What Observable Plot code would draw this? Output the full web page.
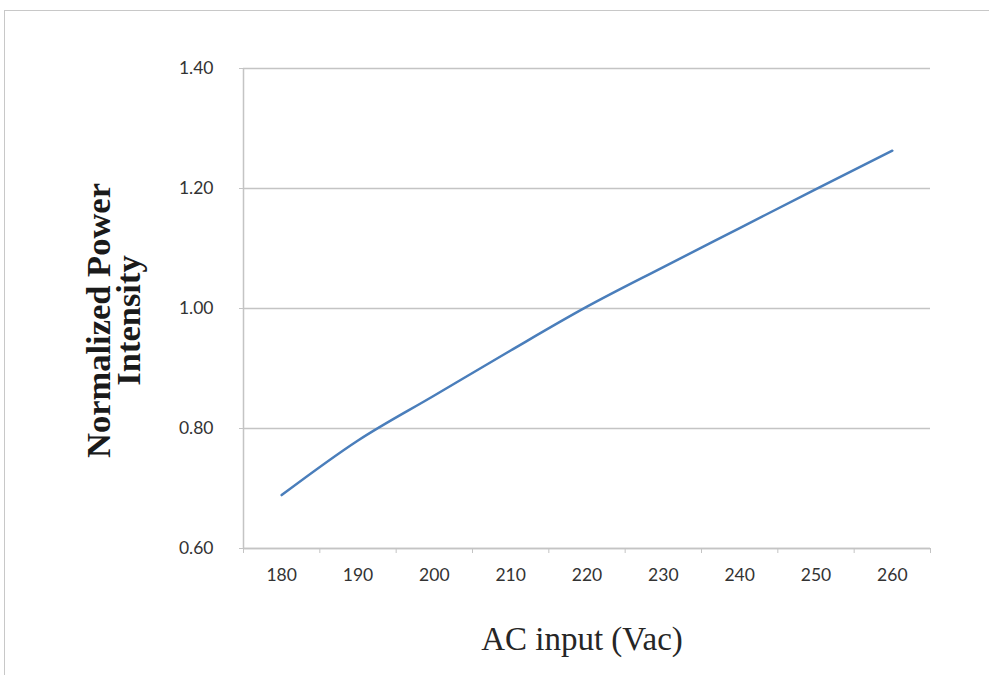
<!DOCTYPE html>
<html>
<head>
<meta charset="utf-8">
<script src="https://cdn.jsdelivr.net/npm/d3@7"></script>
<script src="https://cdn.jsdelivr.net/npm/@observablehq/plot@0.6"></script>
<style>
  html, body { margin: 0; padding: 0; background: #fff; overflow: hidden; }
  #wrap { position: relative; width: 989px; height: 675px; }
  #frame { position: absolute; left: 4px; top: 10px; width: 1100px; height: 800px; border: 1.5px solid #c8c8c8; box-sizing: border-box; }
  #chart { position: absolute; left: 0; top: 0; }
</style>
</head>
<body>
<div id="wrap"><div id="frame"></div><div id="chart"></div></div>
<script>
// AC input categories (Vac)
const acInput = [180, 190, 200, 210, 220, 230, 240, 250, 260];
// Normalized power intensity
const intensity = [0.689, 0.780, 0.855, 0.930, 1.003, 1.069, 1.134, 1.199, 1.263];
// axis ticks
const yTicks = [0.60, 0.80, 1.00, 1.20, 1.40];
const xTickLabels = [180, 190, 200, 210, 220, 230, 240, 250, 260];
const xCategoryEdges = [175, 185, 195, 205, 215, 225, 235, 245, 255, 265];

const data = acInput.map((v, i) => ({v, p: intensity[i]}));

const gray = "#c4c4c4";
const chart = Plot.plot({
  width: 989,
  height: 675,
  marginLeft: 243,
  marginRight: 59,
  marginTop: 68,
  marginBottom: 127,
  style: {fontFamily: "Lato, 'Open Sans', sans-serif", background: "transparent"},
  x: {type: "linear", domain: [175, 265]},
  y: {domain: [0.6, 1.4]},
  marks: [
    Plot.gridY(yTicks, {stroke: gray, strokeOpacity: 1, strokeWidth: 1.5}),
    Plot.ruleX([175], {stroke: gray, strokeWidth: 1.5}),
    Plot.ruleY([0.6], {stroke: gray, strokeWidth: 1.5}),
    Plot.axisY({ticks: yTicks, tickFormat: d3.format(".2f"), tickSize: 4, tickPadding: 26, stroke: gray, fontSize: 17.5, fill: "#333", label: null}),
    Plot.axisX({ticks: xCategoryEdges, tickFormat: () => "", tickSize: 5, stroke: gray, label: null}),
    Plot.axisX({ticks: xTickLabels, tickFormat: d => String(d), tickSize: 0, tickPadding: 20, fontSize: 17.5, fill: "#333", label: null}),
    Plot.line(data, {x: "v", y: "p", stroke: "#4a7ebb", strokeWidth: 2.5, curve: "monotone-x"}),
    Plot.text(["Normalized Power\nIntensity"], {frameAnchor: "left", textAnchor: "middle", lineAnchor: "middle", rotate: -90, dx: -128, dy: 12, fontFamily: "'Liberation Serif', serif", fontWeight: "bold", fontSize: 34.5, lineHeight: 0.85, fill: "#1a1a1a"}),
    Plot.text(["AC input (Vac)"], {frameAnchor: "bottom", lineAnchor: "middle", dx: -5, dy: 91, fontFamily: "'Liberation Serif', serif", fontSize: 33, fill: "#262626"})
  ]
});
document.getElementById("chart").appendChild(chart);
</script>
</body>
</html>
